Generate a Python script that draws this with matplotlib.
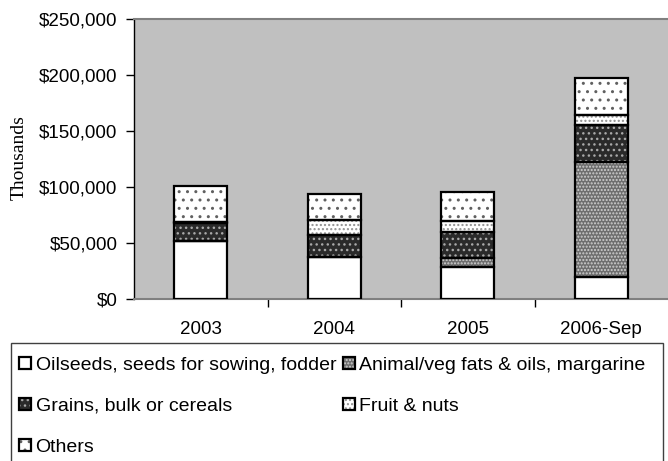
import matplotlib
matplotlib.use("Agg")
import matplotlib.pyplot as plt
from matplotlib.patches import Patch, Rectangle
from matplotlib.legend_handler import HandlerTuple
from matplotlib.ticker import FuncFormatter, FixedLocator
import numpy as np

categories = ["2003", "2004", "2005", "2006-Sep"]
series_names = ["Oilseeds, seeds for sowing, fodder",
                "Animal/veg fats & oils, margarine",
                "Grains, bulk or cereals",
                "Fruit & nuts",
                "Others"]
oilseeds = [52000, 37500, 29000, 20000]
animal = [0, 0, 7400, 102600]
grains = [16000, 19500, 23000, 32400]
fruit = [500, 13500, 10400, 9000]
others = [32000, 23000, 25400, 33000]
series = [oilseeds, animal, grains, fruit, others]

styles = [
    dict(face="white", hatch="", hcol="white"),
    dict(face="#6e6e6e", hatch=".....", hcol="#d0d0d0"),
    dict(face="#2a2a2a", hatch="...", hcol="#a8a8a8"),
    dict(face="white", hatch="....", hcol="#909090"),
    dict(face="white", hatch="..", hcol="#606060"),
]

plt.rcParams["font.family"] = ["Liberation Sans", "DejaVu Sans"]
plt.rcParams["hatch.linewidth"] = 1.0

W, H = 668, 461
fig = plt.figure(figsize=(W / 100, H / 100), dpi=100)
ax = fig.add_axes([134 / W, (H - 299) / H, (W - 134) / W, (299 - 19) / H])
ax.set_facecolor("#c0c0c0")

x = np.arange(len(categories))
width = 0.40
bottom = np.zeros(len(categories))
for vals, st in zip(series, styles):
    vals = np.array(vals, dtype=float)
    ax.bar(x, vals, width, bottom=bottom, color=st["face"], hatch=st["hatch"],
           edgecolor=st["hcol"], linewidth=0, zorder=2)
    ax.bar(x, vals, width, bottom=bottom, fill=False, edgecolor="black",
           linewidth=1.6, zorder=3)
    bottom += vals

ax.set_xlim(-0.5, 3.5)
ax.set_ylim(0, 250000)
ax.set_yticks(np.arange(0, 250001, 50000))
ax.yaxis.set_major_formatter(FuncFormatter(lambda v, p: "${:,.0f}".format(v)))
ax.xaxis.set_major_locator(FixedLocator([0.5, 1.5, 2.5]))
ax.xaxis.set_minor_locator(FixedLocator(x))
ax.set_xticklabels([])
ax.set_xticklabels(categories, minor=True)
ax.tick_params(axis="x", which="major", length=6, width=1, direction="out", color="black")
ax.tick_params(axis="x", which="minor", length=0, pad=15.5, labelsize=13.5)
ax.tick_params(axis="y", length=6, width=1, direction="out", labelsize=13.5, pad=6)

ax.spines["right"].set_visible(False)
ax.spines["top"].set_color("#808080")
ax.spines["top"].set_linewidth(1.5)
ax.spines["bottom"].set_color("#808080")
ax.spines["bottom"].set_linewidth(1.5)
ax.spines["left"].set_color("black")
ax.spines["left"].set_linewidth(1.0)

fig.text(19 / W, 1 - 158 / H, "Thousands", rotation=90, ha="center", va="center",
         family=["Liberation Serif", "DejaVu Serif"], fontsize=14)

# legend frame (open at the bottom, as in the reference)
fig.patches.append(Rectangle((10.7 / W, -0.05), (663 - 10.7) / W, (H - 343) / H + 0.05,
                             transform=fig.transFigure, fill=False,
                             edgecolor="#404040", linewidth=1.0))

handles = []
for st in styles:
    h1 = Patch(facecolor=st["face"], hatch=st["hatch"], edgecolor=st["hcol"], linewidth=0)
    h2 = Patch(fill=False, edgecolor="black", linewidth=1.6)
    handles.append((h1, h2))
order = [0, 2, 4, 1, 3]
leg = fig.legend([handles[i] for i in order], [series_names[i] for i in order],
                 handler_map={tuple: HandlerTuple(ndivide=1)},
                 loc="upper left", bbox_to_anchor=(19 / W, 1 - 357 / H),
                 ncol=2, fontsize=14, frameon=False,
                 handlelength=0.6, handleheight=0.6,
                 handletextpad=0.25, labelspacing=1.22, borderpad=0, borderaxespad=0,
                 columnspacing=0.35)

fig.savefig("out.png", dpi=100)
